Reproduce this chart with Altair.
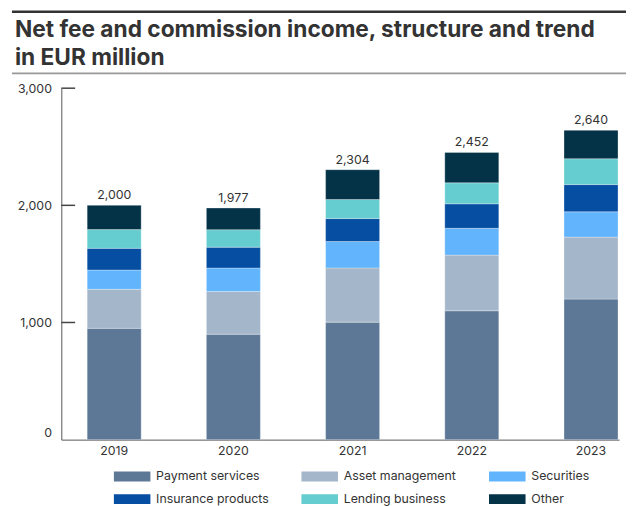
import altair as alt
import pandas as pd

years = ["2019", "2020", "2021", "2022", "2023"]
categories = ["Payment services", "Asset management", "Securities",
              "Insurance products", "Lending business", "Other"]
colors = ["#5D7897", "#A4B6CA", "#62B5FD", "#064EA1", "#65CDCF", "#043348"]

payment = [950, 900, 1003, 1100, 1200]
asset = [333, 364, 463, 475, 529]
securities = [165, 201, 225, 229, 216]
insurance = [185, 178, 196, 209, 232]
lending = [160, 149, 163, 179, 221]
other = [207, 185, 254, 260, 242]
totals = [2000, 1977, 2304, 2452, 2640]
y_ticks = [1000, 2000, 3000]
title_lines = ["Net fee and commission income, structure and trend", "in EUR million"]

series = [payment, asset, securities, insurance, lending, other]
rows = []
for ci, (cat, vals) in enumerate(zip(categories, series)):
    for y, v in zip(years, vals):
        rows.append({"year": y, "category": cat, "value": v, "idx": ci})
df = pd.DataFrame(rows)
tot_df = pd.DataFrame({"year": years, "total": totals})
tick_df = pd.DataFrame({"v": y_ticks})
one_df = pd.DataFrame({"a": [0]})

FONT = "Inter"
TXT = "#333333"

x_scale = alt.Scale(paddingInner=0.547, paddingOuter=0.113, align=0.96, round=False)
y_scale = alt.Scale(domain=[0, 3000], nice=False)

x_axis = alt.Axis(labelAngle=0, ticks=False, domainColor="#555555",
                  labelFont=FONT, labelFontSize=12.5, labelColor=TXT, labelPadding=5)
y_axis = alt.Axis(values=[0, 1000, 2000, 3000],
                  labelExpr="format(datum.value, ',')", ticks=False,
                  grid=False, domainColor="#555555", labelFont=FONT,
                  labelFontSize=12.5, labelColor=TXT, labelPadding=10,
                  labelBaseline=alt.ExprRef(expr="datum.value == 0 ? 'bottom' : 'middle'"))

bars = alt.Chart(df).mark_bar(stroke="white", strokeWidth=0.5, strokeOpacity=0.6).encode(
    x=alt.X("year:N", title=None, scale=x_scale, axis=x_axis),
    y=alt.Y("value:Q", stack="zero", scale=y_scale, title=None, axis=y_axis),
    color=alt.Color("category:N", scale=alt.Scale(domain=categories, range=colors),
                    sort=categories, title=None,
                    legend=alt.Legend(orient="none", legendX=65.5, legendY=387,
                                      direction="horizontal", columns=3,
                                      symbolType="M-3.7,-1H3.7V1H-3.7Z", symbolSize=100,
                                      symbolStrokeWidth=0, labelFont=FONT, labelFontSize=12.5,
                                      labelColor=TXT, labelOffset=18, columnPadding=32,
                                      rowPadding=10, labelLimit=200)),
    order=alt.Order("idx:Q", sort="ascending"),
)

labels = alt.Chart(tot_df).mark_text(dy=-6, baseline="alphabetic", font=FONT,
                                     fontSize=12.5, color=TXT).encode(
    x=alt.X("year:N", scale=x_scale, title=None, axis=x_axis),
    y=alt.Y("total:Q", scale=y_scale, title=None, axis=y_axis),
    text=alt.Text("total:Q", format=","),
)

ticks = alt.Chart(tick_df).mark_rule(color="#444444", strokeWidth=1.5).encode(
    x=alt.value(0), x2=alt.value(14),
    y=alt.Y("v:Q", scale=y_scale, title=None, axis=y_axis)
)

top_line = alt.Chart(one_df).mark_rule(color="#333333", strokeWidth=2.5).encode(
    x=alt.value(-50), x2=alt.value(572), y=alt.value(-77.5)
)
sub_line = alt.Chart(one_df).mark_rule(color="#999999", strokeWidth=2).encode(
    x=alt.value(-50), x2=alt.value(572), y=alt.value(-15)
)
title1 = alt.Chart(one_df).mark_text(
    text=title_lines[0], align="left", baseline="alphabetic", font=FONT,
    fontSize=23, fontWeight="bold", color=TXT
).encode(x=alt.value(-47), y=alt.value(-51.5))
title2 = alt.Chart(one_df).mark_text(
    text=title_lines[1], align="left", baseline="alphabetic", font=FONT,
    fontSize=23, fontWeight="bold", color=TXT
).encode(x=alt.value(-47), y=alt.value(-23.5))

chart = alt.layer(bars, labels, ticks, top_line, sub_line, title1, title2).properties(
    width=565, height=356,
    autosize=alt.AutoSizeParams(type="none"),
    padding={"left": 54, "top": 78, "right": 7, "bottom": 64},
).configure_view(stroke=None)

chart.save("out.html", embed_options={"renderer": "svg", "actions": False})
